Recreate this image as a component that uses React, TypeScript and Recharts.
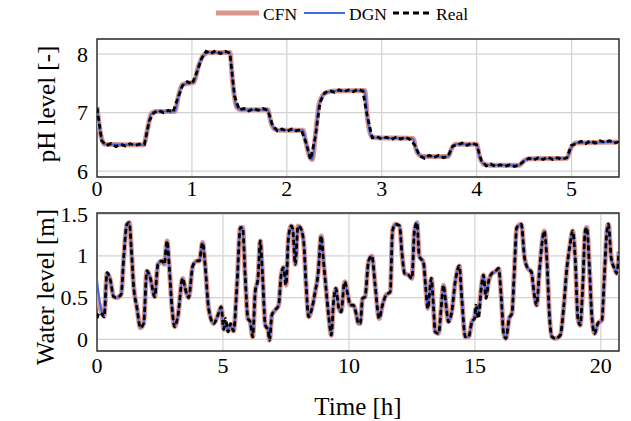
import React from 'react';
import { LineChart, Line, XAxis, YAxis, CartesianGrid, ReferenceArea } from 'recharts';

const FONT = 'Liberation Serif, DejaVu Serif, serif';

// ---- pH (top) ----
const phTicksX = [0, 1, 2, 3, 4, 5];
const phTicksY = [6, 7, 8];
const phModelTime = [0, 0.04, 0.08, 0.49, 0.53, 0.57, 0.62, 0.82, 0.86, 0.9, 0.95, 1.02, 1.07, 1.12, 1.18, 1.4, 1.43, 1.47, 1.52, 1.8, 1.83, 1.87, 1.92, 2.17, 2.2, 2.24, 2.27, 2.3, 2.34, 2.4, 2.5, 2.82, 2.85, 2.89, 2.95, 3.33, 3.36, 3.4, 3.45, 3.7, 3.74, 3.78, 4.0, 4.03, 4.08, 4.15, 4.45, 4.5, 4.56, 4.95, 4.99, 5.04, 5.5];
const phCFN = [7.1, 6.62, 6.46, 6.45, 6.7, 6.98, 7.02, 7.02, 7.3, 7.48, 7.5, 7.52, 7.8, 7.98, 8.03, 8.03, 7.5, 7.1, 7.05, 7.05, 6.85, 6.72, 6.7, 6.7, 6.5, 6.25, 6.2, 6.6, 7.15, 7.33, 7.37, 7.38, 6.9, 6.6, 6.57, 6.56, 6.38, 6.27, 6.25, 6.25, 6.4, 6.46, 6.46, 6.25, 6.12, 6.1, 6.1, 6.18, 6.21, 6.22, 6.38, 6.48, 6.5];
const phDGN = [7.12, 6.6, 6.46, 6.45, 6.7, 6.98, 7.02, 7.02, 7.3, 7.48, 7.5, 7.52, 7.8, 7.98, 8.03, 8.03, 7.5, 7.1, 7.05, 7.05, 6.85, 6.72, 6.7, 6.7, 6.5, 6.25, 6.2, 6.6, 7.15, 7.33, 7.37, 7.38, 6.9, 6.6, 6.57, 6.56, 6.38, 6.27, 6.25, 6.25, 6.4, 6.46, 6.46, 6.25, 6.12, 6.1, 6.1, 6.18, 6.21, 6.22, 6.38, 6.48, 6.5];
const phRealTime = [0, 0.05, 0.1, 0.15, 0.2, 0.25, 0.3, 0.35, 0.4, 0.45, 0.5, 0.55, 0.6, 0.65, 0.7, 0.75, 0.8, 0.85, 0.9, 0.95, 1.0, 1.05, 1.1, 1.15, 1.2, 1.25, 1.3, 1.35, 1.4, 1.45, 1.5, 1.55, 1.6, 1.65, 1.7, 1.75, 1.8, 1.85, 1.9, 1.95, 2.0, 2.05, 2.1, 2.15, 2.2, 2.25, 2.3, 2.35, 2.4, 2.45, 2.5, 2.55, 2.6, 2.65, 2.7, 2.75, 2.8, 2.85, 2.9, 2.95, 3.0, 3.05, 3.1, 3.15, 3.2, 3.25, 3.3, 3.35, 3.4, 3.45, 3.5, 3.55, 3.6, 3.65, 3.7, 3.75, 3.8, 3.85, 3.9, 3.95, 4.0, 4.05, 4.1, 4.15, 4.2, 4.25, 4.3, 4.35, 4.4, 4.45, 4.5, 4.55, 4.6, 4.65, 4.7, 4.75, 4.8, 4.85, 4.9, 4.95, 5.0, 5.05, 5.1, 5.15, 5.2, 5.25, 5.3, 5.35, 5.4, 5.45, 5.5];
const phReal = [7.08, 6.52, 6.44, 6.47, 6.42, 6.46, 6.43, 6.47, 6.44, 6.46, 6.46, 6.86, 7.0, 7.04, 7.0, 7.04, 7.01, 7.24, 7.46, 7.53, 7.49, 7.68, 7.92, 8.05, 8.01, 8.06, 8.01, 8.05, 8.02, 7.28, 7.05, 7.07, 7.03, 7.07, 7.04, 7.07, 7.04, 6.78, 6.69, 6.72, 6.68, 6.72, 6.69, 6.71, 6.5, 6.2, 6.58, 7.18, 7.34, 7.38, 7.35, 7.39, 7.36, 7.39, 7.36, 7.4, 7.37, 6.92, 6.57, 6.59, 6.55, 6.58, 6.54, 6.58, 6.55, 6.58, 6.54, 6.44, 6.26, 6.22, 6.27, 6.23, 6.27, 6.23, 6.26, 6.43, 6.45, 6.48, 6.44, 6.48, 6.45, 6.18, 6.09, 6.12, 6.08, 6.11, 6.08, 6.11, 6.08, 6.11, 6.17, 6.22, 6.19, 6.23, 6.2, 6.24, 6.2, 6.23, 6.2, 6.23, 6.44, 6.47, 6.51, 6.47, 6.52, 6.48, 6.52, 6.49, 6.52, 6.48, 6.5];

// ---- Water level (bottom) ----
const waterTicksX = [0, 5, 10, 15, 20];
const waterTicksY = [0, 0.5, 1, 1.5];
const waterTime = [0, 0.1, 0.2, 0.28, 0.4, 0.53, 0.66, 0.79, 0.96, 1.06, 1.19, 1.28, 1.36, 1.45, 1.59, 1.72, 1.85, 1.98, 2.12, 2.29, 2.42, 2.58, 2.67, 2.78, 2.87, 2.98, 3.08, 3.21, 3.4, 3.5, 3.64, 3.8, 3.97, 4.06, 4.19, 4.3, 4.43, 4.63, 4.8, 4.93, 5.03, 5.1, 5.2, 5.3, 5.42, 5.56, 5.69, 5.78, 5.88, 5.99, 6.08, 6.18, 6.28, 6.39, 6.48, 6.57, 6.68, 6.79, 6.85, 6.94, 7.07, 7.21, 7.31, 7.4, 7.5, 7.6, 7.71, 7.77, 7.87, 7.98, 8.07, 8.2, 8.3, 8.4, 8.53, 8.66, 8.77, 8.9, 8.99, 9.09, 9.2, 9.3, 9.39, 9.48, 9.6, 9.69, 9.83, 9.96, 10.05, 10.18, 10.27, 10.38, 10.45, 10.54, 10.64, 10.78, 10.91, 11.04, 11.2, 11.33, 11.47, 11.64, 11.73, 11.84, 12.01, 12.1, 12.21, 12.37, 12.5, 12.6, 12.7, 12.79, 12.96, 13.05, 13.13, 13.27, 13.36, 13.42, 13.56, 13.66, 13.75, 13.84, 13.95, 14.08, 14.22, 14.38, 14.48, 14.62, 14.75, 14.88, 14.99, 15.04, 15.14, 15.25, 15.34, 15.44, 15.54, 15.67, 15.8, 15.94, 16.05, 16.14, 16.23, 16.36, 16.47, 16.57, 16.66, 16.84, 16.97, 17.1, 17.24, 17.36, 17.45, 17.55, 17.66, 17.75, 17.86, 17.95, 18.06, 18.19, 18.39, 18.52, 18.65, 18.78, 18.88, 18.98, 19.09, 19.18, 19.27, 19.38, 19.44, 19.54, 19.64, 19.75, 19.88, 20.04, 20.14, 20.24, 20.3, 20.41, 20.54, 20.63, 20.72];
const waterReal = [0.25, 0.32, 0.3, 0.27, 0.8, 0.71, 0.51, 0.5, 0.54, 0.98, 1.38, 1.4, 1.1, 0.65, 0.37, 0.14, 0.19, 0.82, 0.73, 0.51, 0.9, 0.94, 0.9, 1.18, 0.86, 0.37, 0.15, 0.28, 0.73, 0.61, 0.5, 0.88, 0.94, 0.94, 1.16, 0.86, 0.37, 0.19, 0.29, 0.39, 0.12, 0.25, 0.09, 0.19, 0.1, 0.67, 1.34, 1.34, 0.77, 0.25, 0.21, 0.03, 0.57, 0.73, 1.18, 0.77, 0.17, 0.11, -0.01, 0.29, 0.35, 0.41, 0.77, 0.86, 0.65, 1.22, 1.36, 1.32, 0.9, 1.36, 1.34, 1.18, 0.65, 0.27, 0.37, 0.57, 0.77, 1.24, 0.94, 0.61, 0.27, 0.05, 0.45, 0.61, 0.37, 0.33, 0.69, 0.53, 0.41, 0.41, 0.33, 0.19, 0.19, 0.49, 0.51, 0.94, 1.0, 0.65, 0.25, 0.41, 0.53, 0.57, 1.3, 1.38, 1.36, 1.05, 0.79, 0.77, 0.73, 1.3, 1.4, 1.0, 0.92, 0.61, 0.37, 0.73, 0.37, 0.09, 0.07, 0.37, 0.65, 0.45, 0.21, 0.33, 0.69, 0.88, 0.49, 0.03, 0.03, 0.21, 0.25, 0.41, 0.25, 0.61, 0.77, 0.49, 0.69, 0.79, 0.81, 0.85, 0.49, 0.07, 0.01, 0.25, 0.31, 0.85, 1.34, 1.38, 0.98, 0.85, 0.81, 0.53, 0.41, 0.77, 1.14, 1.3, 0.94, 0.33, 0.03, 0.01, 0.05, 0.37, 0.85, 1.14, 1.3, 0.98, 0.25, 0.17, 0.57, 1.3, 1.34, 0.9, 0.29, 0.07, 0.19, 0.23, 0.77, 1.3, 1.38, 0.98, 0.85, 0.79, 1.05];
const waterCFN = [0.55, 0.4, 0.31, 0.28, 0.79, 0.71, 0.51, 0.5, 0.54, 0.98, 1.38, 1.4, 1.1, 0.65, 0.37, 0.14, 0.19, 0.82, 0.73, 0.51, 0.9, 0.94, 0.9, 1.18, 0.86, 0.37, 0.15, 0.28, 0.73, 0.61, 0.5, 0.88, 0.94, 0.94, 1.16, 0.86, 0.37, 0.19, 0.29, 0.39, 0.12, 0.2, 0.1, 0.17, 0.1, 0.67, 1.34, 1.34, 0.77, 0.25, 0.21, 0.03, 0.57, 0.73, 1.18, 0.77, 0.17, 0.11, -0.01, 0.29, 0.35, 0.41, 0.77, 0.86, 0.65, 1.22, 1.36, 1.32, 0.9, 1.36, 1.34, 1.18, 0.65, 0.27, 0.37, 0.57, 0.77, 1.24, 0.94, 0.61, 0.27, 0.05, 0.45, 0.61, 0.37, 0.33, 0.69, 0.53, 0.41, 0.41, 0.33, 0.19, 0.19, 0.49, 0.51, 0.94, 1.0, 0.65, 0.25, 0.41, 0.53, 0.57, 1.3, 1.38, 1.36, 1.05, 0.79, 0.77, 0.73, 1.3, 1.4, 1.0, 0.92, 0.61, 0.37, 0.73, 0.37, 0.09, 0.07, 0.37, 0.65, 0.45, 0.21, 0.33, 0.69, 0.88, 0.49, 0.03, 0.03, 0.21, 0.27, 0.37, 0.33, 0.61, 0.77, 0.52, 0.69, 0.79, 0.81, 0.85, 0.49, 0.07, 0.01, 0.25, 0.31, 0.85, 1.34, 1.38, 0.98, 0.85, 0.81, 0.53, 0.41, 0.77, 1.14, 1.3, 0.94, 0.33, 0.03, 0.01, 0.05, 0.37, 0.85, 1.14, 1.3, 0.98, 0.25, 0.17, 0.57, 1.3, 1.34, 0.9, 0.29, 0.07, 0.19, 0.23, 0.77, 1.3, 1.38, 0.98, 0.85, 0.79, 1.05];
const waterDGN = [0.72, 0.46, 0.32, 0.28, 0.79, 0.71, 0.51, 0.5, 0.54, 0.98, 1.38, 1.4, 1.1, 0.65, 0.37, 0.14, 0.19, 0.82, 0.73, 0.51, 0.9, 0.94, 0.9, 1.18, 0.86, 0.37, 0.15, 0.28, 0.73, 0.61, 0.5, 0.88, 0.94, 0.94, 1.16, 0.86, 0.37, 0.19, 0.29, 0.39, 0.12, 0.2, 0.1, 0.17, 0.1, 0.67, 1.34, 1.34, 0.77, 0.25, 0.21, 0.03, 0.57, 0.73, 1.18, 0.77, 0.17, 0.11, -0.01, 0.29, 0.35, 0.41, 0.77, 0.86, 0.65, 1.22, 1.36, 1.32, 0.9, 1.36, 1.34, 1.18, 0.65, 0.27, 0.37, 0.57, 0.77, 1.24, 0.94, 0.61, 0.27, 0.05, 0.45, 0.61, 0.37, 0.33, 0.69, 0.53, 0.41, 0.41, 0.33, 0.19, 0.19, 0.49, 0.51, 0.94, 1.0, 0.65, 0.25, 0.41, 0.53, 0.57, 1.3, 1.38, 1.36, 1.05, 0.79, 0.77, 0.73, 1.3, 1.4, 1.0, 0.92, 0.61, 0.37, 0.73, 0.37, 0.09, 0.07, 0.37, 0.65, 0.45, 0.21, 0.33, 0.69, 0.88, 0.49, 0.03, 0.03, 0.21, 0.27, 0.37, 0.33, 0.61, 0.77, 0.52, 0.69, 0.79, 0.81, 0.85, 0.49, 0.07, 0.01, 0.25, 0.31, 0.85, 1.34, 1.38, 0.98, 0.85, 0.81, 0.53, 0.41, 0.77, 1.14, 1.3, 0.94, 0.33, 0.03, 0.01, 0.05, 0.37, 0.85, 1.14, 1.3, 0.98, 0.25, 0.17, 0.57, 1.3, 1.34, 0.9, 0.29, 0.07, 0.19, 0.23, 0.77, 1.3, 1.38, 0.98, 0.85, 0.79, 1.05];

const seriesNames = ['CFN', 'DGN', 'Real'];
const COLORS: Record<string, string> = { CFN: '#dc978c', DGN: '#4169e1', Real: '#000000' };

const toPts = (ts: number[], vs: number[]) => ts.map((t, i) => ({ t, v: vs[i] }));

const TICK_SIZE = 22;
const LABEL_SIZE = 25;
const GRID = '#d2d2d2';
const FRAME = '#2b2b2b';

const XTick = (props: any) => {
  const { x, y, payload } = props;
  return (
    <text x={x} y={y} dy="0.72em" textAnchor="middle" fill="#000"
      style={{ fontFamily: FONT, fontSize: TICK_SIZE }}>{String(payload.value)}</text>
  );
};

const YTick = (props: any) => {
  const { x, y, payload } = props;
  return (
    <text x={x} y={y} dy="0.34em" textAnchor="end" fill="#000"
      style={{ fontFamily: FONT, fontSize: TICK_SIZE }}>{String(payload.value)}</text>
  );
};

const yLabel = (text: string, cx: number, shift: number) => (props: any) => {
  const vb = props.viewBox;
  const cy = vb.y + vb.height / 2 + shift;
  return (
    <text x={cx} y={cy} transform={`rotate(-90 ${cx} ${cy})`} textAnchor="middle" dominantBaseline="central"
      style={{ fontSize: LABEL_SIZE, fontFamily: FONT, fill: '#000' }}>{text}</text>
  );
};

// legend layout (swatch start x, swatch length, text start x)
const legendSwatchX = [216, 304, 393];
const legendSwatchLen = [43, 41, 38];
const legendTextX = [263, 349, 436];

export default function App() {
  const phC = toPts(phModelTime, phCFN);
  const phD = toPts(phModelTime, phDGN);
  const phR = toPts(phRealTime, phReal);
  const wC = toPts(waterTime, waterCFN);
  const wD = toPts(waterTime, waterDGN);
  const wR = toPts(waterTime, waterReal);

  return (
    <div style={{ position: 'absolute', left: 0, top: 0, width: 631, height: 421, background: '#fff', fontFamily: FONT }}>
      <div style={{ position: 'absolute', left: 0, top: 0 }}>
        <LineChart width={631} height={205} margin={{ top: 39, right: 12, bottom: 0, left: 0 }}>
          <CartesianGrid stroke={GRID} strokeWidth={1.2} />
          <XAxis type="number" dataKey="t" domain={[0, 5.5]} ticks={phTicksX} allowDataOverflow
            tickLine={false} axisLine={false} tickSize={3} tickMargin={0} height={28} tick={<XTick />} />
          <YAxis type="number" dataKey="v" domain={[5.9, 8.26]} ticks={phTicksY} allowDataOverflow
            tickLine={false} axisLine={false} tickSize={6} tickMargin={3} width={97} tick={<YTick />}
            label={{ content: yLabel('pH level [-]', 46, -4) }} />
          <ReferenceArea x1={0} x2={5.5} y1={5.9} y2={8.26} fill="none" stroke={FRAME} strokeWidth={1.4} fillOpacity={0} />
          <Line data={phC} dataKey="v" name="CFN" type="monotone" stroke={COLORS.CFN} strokeWidth={5} dot={false} isAnimationActive={false} />
          <Line data={phD} dataKey="v" name="DGN" type="monotone" stroke={COLORS.DGN} strokeWidth={2} dot={false} isAnimationActive={false} />
          <Line data={phR} dataKey="v" name="Real" type="linear" stroke={COLORS.Real} strokeWidth={2.8} strokeDasharray="5 3" dot={false} isAnimationActive={false} />
        </LineChart>
      </div>

      <div style={{ position: 'absolute', left: 0, top: 185 }}>
        <LineChart width={631} height={236} margin={{ top: 28, right: 12, bottom: 0, left: 0 }}>
          <CartesianGrid stroke={GRID} strokeWidth={1.2} />
          <XAxis type="number" dataKey="t" domain={[0, 20.72]} ticks={waterTicksX} allowDataOverflow
            tickLine={false} axisLine={false} tickSize={6} tickMargin={0} height={70} tick={<XTick />}
            label={{ value: 'Time [h]', position: 'insideBottom', offset: 6, style: { fontSize: LABEL_SIZE, fontFamily: FONT, fill: '#000' } }} />
          <YAxis type="number" dataKey="v" domain={[-0.14, 1.515]} ticks={waterTicksY} allowDataOverflow
            tickLine={false} axisLine={false} tickSize={6} tickMargin={3} width={97} tick={<YTick />}
            label={{ content: yLabel('Water level [m]', 45, 5) }} />
          <ReferenceArea x1={0} x2={20.72} y1={-0.14} y2={1.515} fill="none" stroke={FRAME} strokeWidth={1.4} fillOpacity={0} />
          <Line data={wC} dataKey="v" name="CFN" type="monotone" stroke={COLORS.CFN} strokeWidth={5} dot={false} isAnimationActive={false} />
          <Line data={wD} dataKey="v" name="DGN" type="monotone" stroke={COLORS.DGN} strokeWidth={2} dot={false} isAnimationActive={false} />
          <Line data={wR} dataKey="v" name="Real" type="monotone" stroke={COLORS.Real} strokeWidth={2.8} strokeDasharray="5 3" dot={false} isAnimationActive={false} />
        </LineChart>
      </div>

      {/* legend */}
      <svg width={631} height={30} style={{ position: 'absolute', left: 0, top: 0 }}>
        {seriesNames.map((n, i) => (
          <g key={n}>
            <line x1={legendSwatchX[i]} y1={13} x2={legendSwatchX[i] + legendSwatchLen[i]} y2={13} stroke={COLORS[n]}
              strokeWidth={n === 'CFN' ? 5 : n === 'DGN' ? 2.2 : 3}
              strokeDasharray={n === 'Real' ? '6 4' : undefined} />
            <text x={legendTextX[i]} y={19.5} fill="#000" style={{ fontFamily: FONT, fontSize: 17.5 }}>{n}</text>
          </g>
        ))}
      </svg>
    </div>
  );
}
